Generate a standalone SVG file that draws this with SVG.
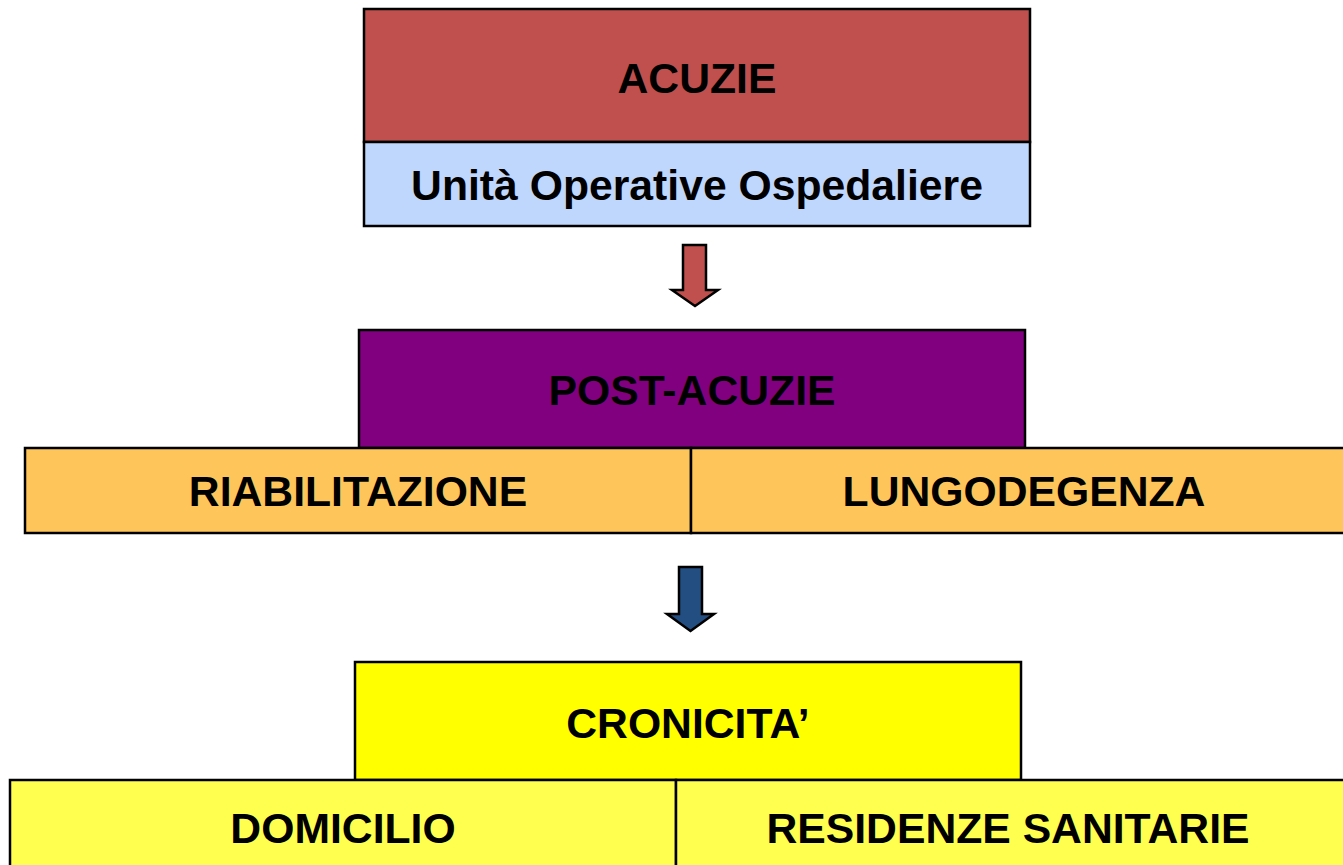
<svg xmlns="http://www.w3.org/2000/svg" width="1343" height="865" viewBox="0 0 1343 865">
<style>
.box{stroke:#000;stroke-width:2.5}
.lbl{font-family:"Liberation Sans",Arial,sans-serif;font-weight:bold;font-size:42.7px;fill:#000;text-anchor:middle}
.arrow{stroke:#000;stroke-width:2.5;stroke-linejoin:miter}
</style>
<rect width="1343" height="865" fill="#fff"/>
<g id="acuzie">
<rect class="box" x="364" y="9" width="666" height="133" fill="#C0504D"/>
<text class="lbl" x="697" y="93">ACUZIE</text>
</g>
<g id="unita">
<rect class="box" x="364" y="142" width="666" height="84" fill="#BFD7FD"/>
<text class="lbl" x="697" y="200">Unità Operative Ospedaliere</text>
</g>
<g id="post-acuzie">
<rect class="box" x="359" y="330" width="666" height="118" fill="#800080"/>
<text class="lbl" x="692" y="405">POST-ACUZIE</text>
</g>
<g id="riabilitazione">
<rect class="box" x="25" y="448" width="666" height="85" fill="#FEC65A"/>
<text class="lbl" x="358" y="506">RIABILITAZIONE</text>
</g>
<g id="lungodegenza">
<rect class="box" x="691" y="448" width="666" height="85" fill="#FEC65A"/>
<text class="lbl" x="1024" y="506">LUNGODEGENZA</text>
</g>
<g id="cronicita">
<rect class="box" x="355" y="662" width="666" height="118" fill="#FFFF00"/>
<text class="lbl" x="688" y="738">CRONICITA’</text>
</g>
<g id="domicilio">
<rect class="box" x="10" y="780" width="666" height="95" fill="#FFFF4F"/>
<text class="lbl" x="343" y="843">DOMICILIO</text>
</g>
<g id="residenze">
<rect class="box" x="676" y="780" width="680" height="95" fill="#FFFF4F"/>
<text class="lbl" x="1008" y="843">RESIDENZE SANITARIE</text>
</g>
<g id="connectors">
<polygon class="arrow" fill="#C0504D" points="683,245 706,245 706,290 718,290 695,306 672,290 683,290"/>
<polygon class="arrow" fill="#234E82" points="679,567 702,567 702,614 714,614 690.5,631 667,614 679,614"/>
</g>
</svg>
